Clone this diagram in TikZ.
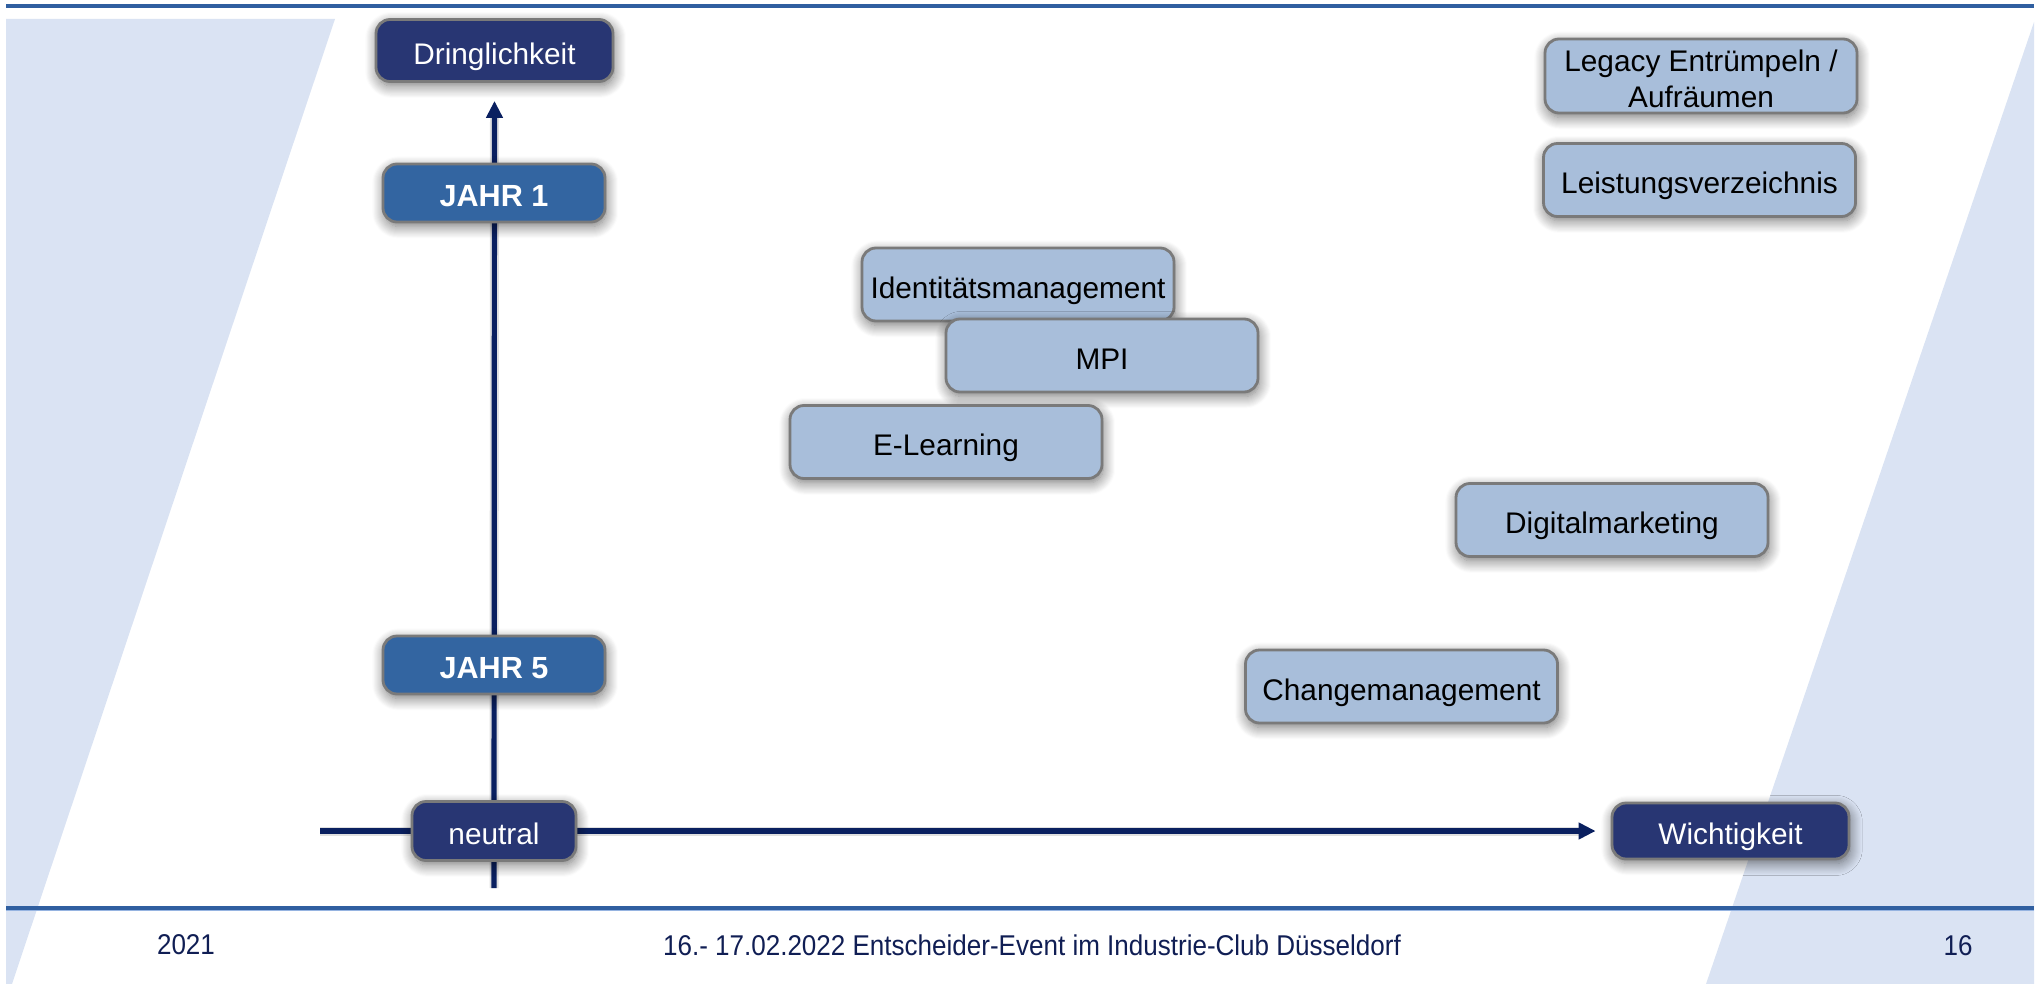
\documentclass[tikz,border=0pt]{standalone}
\usepackage{fontspec}
\setmainfont{Liberation Sans}
\newfontfamily\footfont{Liberation Sans}[FakeStretch=0.91]
\usetikzlibrary{arrows.meta,shadows.blur}
\definecolor{navyfill}{RGB}{40,54,115}
\definecolor{jahrfill}{RGB}{51,101,161}
\definecolor{lightfill}{RGB}{168,190,218}
\definecolor{boxborder}{RGB}{122,122,122}
\definecolor{bgpolycol}{RGB}{218,227,243}
\definecolor{rulecol}{RGB}{48,95,160}
\definecolor{rulelight}{RGB}{150,180,225}
\definecolor{axiscol}{RGB}{10,32,96}
\definecolor{footcol}{RGB}{16,30,84}
\pgfdeclarelayer{bglayer}
\pgfsetlayers{bglayer,main}
\begin{document}
\begin{tikzpicture}[x=0.5pt,y=-0.5pt,
  boxbase/.style={rounded corners=7pt, draw=boxborder, line width=1.4pt, inner sep=0pt, align=center,
    font=\fontsize{14.9}{18.25}\selectfont,
    blur shadow={shadow xshift=0.6pt, shadow yshift=-2.2pt, shadow blur radius=6pt, shadow blur steps=12, shadow opacity=55}},
  onel/.style={text height=13.6pt, text depth=0pt},
  navybox/.style={boxbase, onel, fill=navyfill, text=white},
  jahrbox/.style={boxbase, onel, fill=jahrfill, text=white, font=\fontsize{15.3}{18}\selectfont\bfseries,
    minimum width=111pt, minimum height=29pt},
  legacybox/.style={boxbase, fill=lightfill, text=black, minimum width=156pt, minimum height=37pt},
  lightbox/.style={legacybox, onel, minimum height=36.5pt},
  axisline/.style={draw=axiscol, line width=2.6pt},
  axisshadow/.style={draw=black, opacity=0.12, line width=4.5pt},
  foot/.style={text=footcol, font=\footfont\fontsize{14.3}{16}\selectfont, inner sep=0pt},
  tipstyle/.style={-{Triangle[length=8.5pt,width=8pt]}}]
\useasboundingbox (0,0) rectangle (2044,984);
% axis nodes
\node[navybox, minimum width=118.5pt, minimum height=31pt] (dring) at (494.5,50.5) {Dringlichkeit};
\node[jahrbox] (j1) at (494,193) {JAHR 1};
\node[jahrbox] (j5) at (494,665) {JAHR 5};
\node[navybox, minimum width=82pt, minimum height=29.5pt] (neutral) at (494,831) {neutral};
\node[navybox, minimum width=118.5pt, minimum height=28pt] (wicht) at (1730.5,831) {Wichtigkeit};
% items
\node[legacybox] (legacy) at (1701,76) {\rule{0pt}{13.8pt}Legacy Entrümpeln /\\Aufräumen};
\node[lightbox] (leist) at (1699.5,180) {Leistungsverzeichnis};
\node[lightbox] (ident) at (1018,284.5) {Identitätsmanagement};
\node[lightbox] (mpi) at (1102,355.5) {MPI};
\node[lightbox] (elearn) at (946,442) {E-Learning};
\node[lightbox] (digital) at (1612,520) {Digitalmarketing};
\node[lightbox] (change) at (1401.5,686.5) {Changemanagement};
% footer
\node[foot] (year) at (186,945) {2021};
\node[foot] (event) at (1032,945) {16.- 17.02.2022 Entscheider-Event im Industrie-Club Düsseldorf};
\node[foot] (page) at (1958,946) {16};
\coordinate (vbot) at (494,888);
\coordinate (hleft) at (320,831);
\begin{pgfonlayer}{bglayer}
  \fill[bgpolycol] (6,19) -- (335,19) -- (12,984) -- (6,984) -- cycle;
  \fill[bgpolycol] (2034,22) -- (1706,984) -- (2034,984) -- cycle;
  \draw[rulecol, line width=2pt] (6,6) -- (2034,6);
  \draw[rulecol, line width=1.6pt] (6,908) -- (2034,908);
  \draw[rulelight, line width=0.7pt] (6,910.6) -- (2034,910.6);
  \begin{scope}[shift={(2,3)}]
    \draw[axisshadow] (vbot) -- ([yshift=-14pt]dring.south);
    \draw[axisshadow] (hleft) -- ([xshift=-12pt]wicht.west);
  \end{scope}
  \draw[axisline, tipstyle, shorten >=9pt] (vbot) -- (dring.south);
  \draw[axisline, tipstyle, shorten >=7.5pt] (hleft) -- (wicht.west);
\end{pgfonlayer}
\end{tikzpicture}
\end{document}
